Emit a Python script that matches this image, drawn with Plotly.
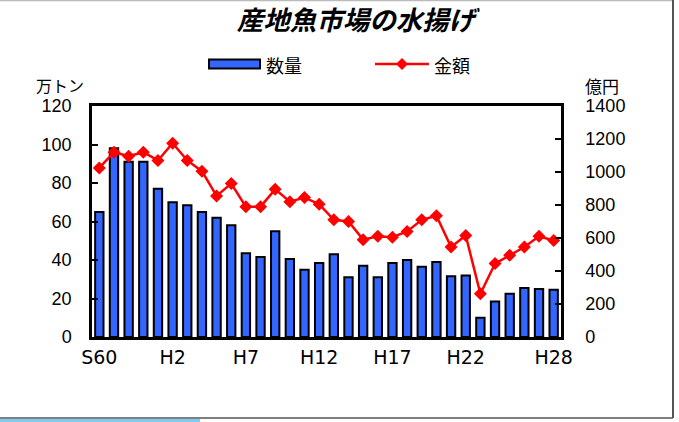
import plotly.graph_objects as go

# ---- data ----
years = ["S60", "S61", "S62", "S63"] + [f"H{i}" for i in range(1, 29)]
quantity = [65, 98, 91, 91, 77, 70, 68.5, 65, 62, 58, 43.5, 41.5, 55, 40.5, 35, 38.5,
            43, 31, 37, 31, 38.5, 40, 36.5, 39, 31.5, 32, 10, 18.5, 22.5, 25.5, 25, 24.5]
amount = [1025, 1120, 1095, 1120, 1070, 1175, 1070, 1005, 855, 930, 790, 790, 895, 820,
          845, 805, 710, 700, 590, 610, 605, 640, 710, 735, 545, 615, 262, 445, 495,
          545, 610, 585]
tick_labels = ["S60", "H2", "H7", "H12", "H17", "H22", "H28"]
left_ticks = [0, 20, 40, 60, 80, 100, 120]
right_ticks = [0, 200, 400, 600, 800, 1000, 1200, 1400]

title_text = "産地魚市場の水揚げ"
name_q = "数量"
name_a = "金額"
unit_left = "万トン"
unit_right = "億円"

# ---- layout helpers (pixel -> paper) ----
W, H = 679, 422
PL, PR, PT, PB = 92, 561, 106, 337


def px(x):
    return (x - PL) / (PR - PL)


def py(y):
    return (PB - y) / (PB - PT)


CJK = "Noto Sans CJK JP"
LAT = "Liberation Sans"
BLUE = "#3366FF"
RED = "#FF0000"

fig = go.Figure()
fig.add_trace(go.Bar(
    x=years, y=quantity, name=name_q,
    marker=dict(color=BLUE, line=dict(color="black", width=2)),
    yaxis="y", showlegend=False,
))
fig.add_trace(go.Scatter(
    x=years, y=amount, name=name_a, mode="lines+markers",
    line=dict(color=RED, width=2.5),
    marker=dict(symbol="diamond", size=10, color=RED),
    yaxis="y2", showlegend=False,
))

shapes = []
annotations = []

# outer frame
shapes.append(dict(type="line", xref="paper", yref="paper", x0=px(0), x1=px(673),
                   y0=py(0.5), y1=py(0.5), line=dict(color="#BBBBBB", width=1.5)))
shapes.append(dict(type="line", xref="paper", yref="paper", x0=px(673), x1=px(673),
                   y0=py(0), y1=py(418), line=dict(color="#555555", width=2)))
shapes.append(dict(type="line", xref="paper", yref="paper", x0=px(0), x1=px(673),
                   y0=py(418), y1=py(418), line=dict(color="#555555", width=1.5)))
shapes.append(dict(type="rect", xref="paper", yref="paper", x0=px(0), x1=px(200),
                   y0=py(419), y1=py(423), line=dict(width=0), fillcolor="#7FCBF2"))

# manual legend
shapes.append(dict(type="rect", xref="paper", yref="paper", x0=px(209), x1=px(260),
                   y0=py(59.5), y1=py(68.5), fillcolor=BLUE,
                   line=dict(color="black", width=2)))
annotations.append(dict(text=name_q, xref="paper", yref="paper", x=px(264), y=py(64.5),
                        xanchor="left", yanchor="middle", showarrow=False,
                        font=dict(family=CJK, size=18, color="black")))
shapes.append(dict(type="line", xref="paper", yref="paper", x0=px(375), x1=px(429),
                   y0=py(64), y1=py(64), line=dict(color=RED, width=2.5)))
cx, cy, r = 402, 64, 6
shapes.append(dict(type="path", xref="paper", yref="paper",
                   path=f"M {px(cx-r)} {py(cy)} L {px(cx)} {py(cy-r)} L {px(cx+r)} {py(cy)} L {px(cx)} {py(cy+r)} Z",
                   fillcolor=RED, line=dict(width=0)))
annotations.append(dict(text=name_a, xref="paper", yref="paper", x=px(432), y=py(64.5),
                        xanchor="left", yanchor="middle", showarrow=False,
                        font=dict(family=CJK, size=18, color="black")))

# axis unit labels
annotations.append(dict(text=unit_left, xref="paper", yref="paper", x=px(60), y=py(85),
                        xanchor="center", yanchor="middle", showarrow=False,
                        font=dict(family=CJK, size=16, color="black")))
annotations.append(dict(text=unit_right, xref="paper", yref="paper", x=px(602), y=py(85),
                        xanchor="center", yanchor="middle", showarrow=False,
                        font=dict(family=CJK, size=17, color="black")))

fig.update_layout(
    width=W, height=H,
    margin=dict(l=PL, r=W - PR, t=PT, b=H - PB, pad=0),
    paper_bgcolor="white", plot_bgcolor="white",
    title=dict(text=title_text, x=356 / W, xref="container", xanchor="center",
               y=1 - 21 / H, yref="container", yanchor="middle",
               font=dict(family=CJK, size=26.5, color="black", style="italic", weight="bold")),
    bargap=0.43,
    showlegend=False,
    shapes=shapes,
    annotations=annotations,
    xaxis=dict(
        type="category", tickvals=tick_labels, ticktext=tick_labels,
        range=[-0.5, len(years) - 0.5],
        showline=True, linecolor="black", linewidth=2.5, mirror=True,
        ticks="", showgrid=False, zeroline=False,
        tickfont=dict(family="DejaVu Sans", size=19, color="black"),
        ticklabelstandoff=1,
    ),
    yaxis=dict(
        range=[0, 120], tickvals=left_ticks, showgrid=False, zeroline=False,
        showline=True, linecolor="black", linewidth=2.5,
        ticks="inside", ticklen=6, tickwidth=1.5, tickcolor="black",
        tickfont=dict(family=LAT, size=18, color="black"),
        ticklabelstandoff=14,
    ),
    yaxis2=dict(
        range=[0, 1400], tickvals=right_ticks, overlaying="y", side="right",
        showgrid=False, zeroline=False,
        showline=True, linecolor="black", linewidth=2.5,
        ticks="inside", ticklen=6, tickwidth=1.5, tickcolor="black",
        tickfont=dict(family=LAT, size=18, color="black"),
        ticklabelstandoff=18,
    ),
)

fig.write_html("out.html", config={"displayModeBar": False},
               post_script="document.body.style.margin='0';document.body.style.overflow='hidden';")
